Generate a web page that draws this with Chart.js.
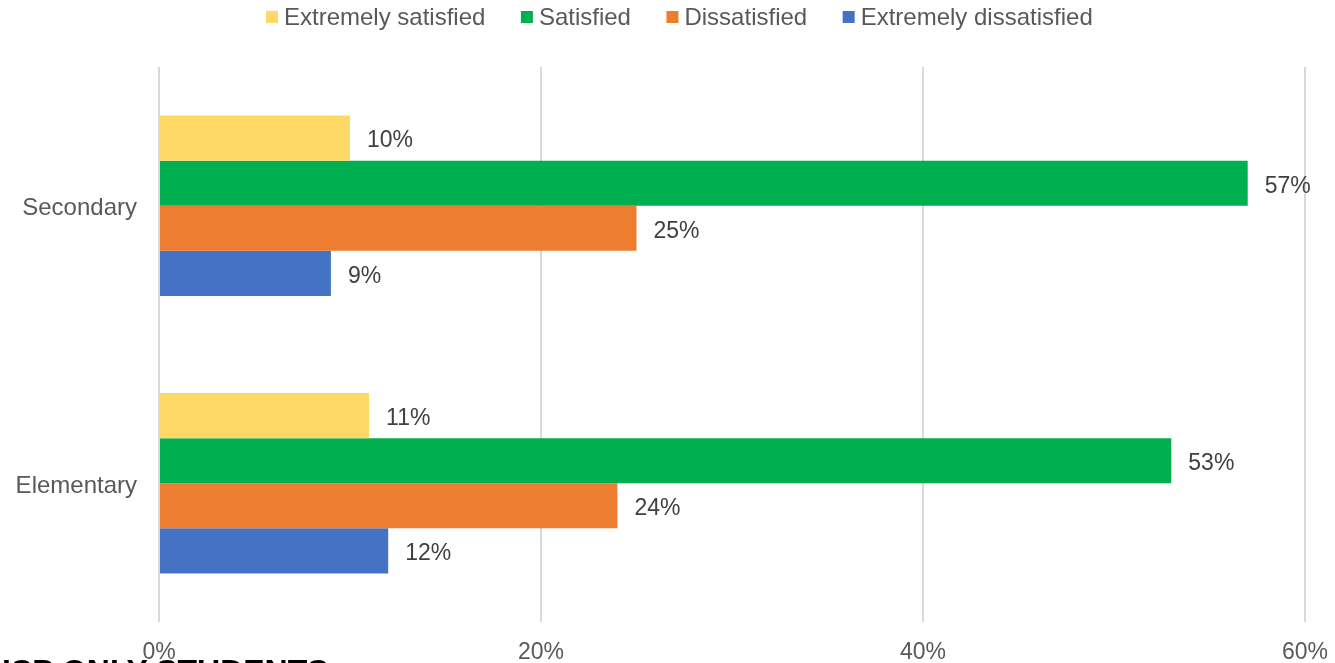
<!DOCTYPE html>
<html>
<head>
<meta charset="utf-8">
<script src="https://cdn.jsdelivr.net/npm/chart.js@4.4.1/dist/chart.umd.min.js"></script>
<style>
  html, body { margin: 0; padding: 0; background: #fff; overflow: hidden; }
  #wrap { position: relative; width: 1335px; height: 663px; overflow: hidden; }
  #c { position: absolute; left: 0; top: 0; }
  #note { position: absolute; left: 2px; top: 655px; font: bold 32px "Liberation Sans", Arial, sans-serif; color: #000; line-height: 32px; white-space: nowrap; z-index: 2; }
</style>
</head>
<body>
<div id="wrap">
  <canvas id="c" width="1335" height="663"></canvas>
  <div id="note">ISP ONLY STUDENTS</div>
</div>
<script>
const categories = ["Secondary", "Elementary"];
const seriesNames = ["Extremely satisfied", "Satisfied", "Dissatisfied", "Extremely dissatisfied"];
const extremelySatisfied = [10, 11];
const satisfied = [57, 53];
const dissatisfied = [25, 24];
const extremelyDissatisfied = [9, 12];
const xTicks = [0, 20, 40, 60];
const colors = ["#FFD966", "#00B050", "#ED7D31", "#4472C4"];

const FONT = '"Liberation Sans", Arial, sans-serif';

const valueLabels = {
  id: 'valueLabels',
  afterDatasetsDraw(chart) {
    const ctx = chart.ctx;
    ctx.save();
    ctx.font = '23px ' + FONT;
    ctx.fillStyle = '#404040';
    ctx.textAlign = 'left';
    ctx.textBaseline = 'middle';
    chart.data.datasets.forEach((ds, i) => {
      const meta = chart.getDatasetMeta(i);
      meta.data.forEach((bar, j) => {
        ctx.fillText(ds.data[j] + '%', bar.x + 17, bar.y + 3);
      });
    });
    ctx.restore();
  }
};

const customLegend = {
  id: 'customLegend',
  afterDraw(chart) {
    const ctx = chart.ctx;
    ctx.save();
    ctx.font = '24px ' + FONT;
    ctx.textBaseline = 'middle';
    ctx.textAlign = 'left';
    let x = 266;
    const y = 17;
    chart.data.datasets.forEach((ds, i) => {
      ctx.fillStyle = ds.backgroundColor;
      ctx.fillRect(x, y - 6, 12, 12);
      ctx.fillStyle = '#595959';
      ctx.fillText(ds.label, x + 18, y + 1);
      x += 18 + ctx.measureText(ds.label).width + 35.5;
    });
    ctx.restore();
  }
};

const seriesData = [extremelySatisfied, satisfied, dissatisfied, extremelyDissatisfied];

new Chart(document.getElementById('c'), {
  type: 'bar',
  data: {
    labels: categories,
    datasets: seriesNames.map((n, i) => ({
      label: n,
      data: seriesData[i],
      backgroundColor: colors[i],
      borderWidth: 0,
      barPercentage: 1,
      categoryPercentage: 0.65
    }))
  },
  options: {
    indexAxis: 'y',
    responsive: false,
    animation: false,
    devicePixelRatio: 1,
    layout: { padding: { left: 0, right: 30, top: 67, bottom: 0 } },
    plugins: {
      legend: { display: false },
      tooltip: { enabled: false }
    },
    scales: {
      x: {
        min: 0, max: 60,
        afterBuildTicks(scale) { scale.ticks = xTicks.map(v => ({ value: v })); },
        afterFit(scale) { scale.height = 41; scale.paddingRight = 0; scale.paddingLeft = 0; },
        ticks: {
          callback: v => v + '%',
          color: '#595959',
          font: { family: FONT, size: 23 },
          padding: 17,
          maxRotation: 0
        },
        grid: { color: '#d9d9d9', lineWidth: 2, drawTicks: false },
        border: { display: false }
      },
      y: {
        afterFit(scale) { scale.width = 159; },
        ticks: {
          color: '#595959',
          font: { family: FONT, size: 24 },
          padding: 22,
          labelOffset: 3
        },
        grid: { display: false, drawTicks: false },
        border: { display: false }
      }
    }
  },
  plugins: [valueLabels, customLegend]
});
</script>
</body>
</html>
